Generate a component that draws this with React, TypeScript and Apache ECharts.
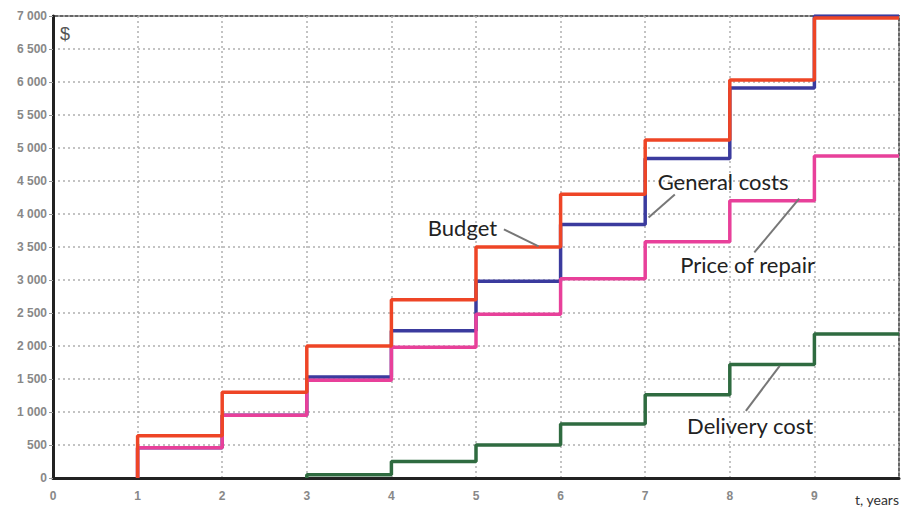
import React, { useEffect, useRef } from "react";
import * as echarts from "echarts";

// Interval start years (each value holds from year to year + 1)
const years = [1, 2, 3, 4, 5, 6, 7, 8, 9];
const endYear = 10;
const budget = [640, 1300, 2000, 2700, 3500, 4300, 5120, 6030, 6970];
const generalCosts = [460, 950, 1530, 2230, 2980, 3840, 4840, 5910, 7000];
const priceOfRepair = [460, 950, 1480, 1980, 2480, 3020, 3580, 4200, 4880];
const deliveryYears = [3, 4, 5, 6, 7, 8, 9];
const deliveryCost = [50, 250, 500, 820, 1260, 1720, 2180];
const yTicks = [0, 500, 1000, 1500, 2000, 2500, 3000, 3500, 4000, 4500, 5000, 5500, 6000, 6500, 7000];
const xTicks = [0, 1, 2, 3, 4, 5, 6, 7, 8, 9];

// Annotation anchors in data coordinates
const annotations = [
  { text: "Budget", at: [4.84, 3790], from: [5.33, 3766], to: [5.74, 3508] },
  { text: "General costs", at: [7.92, 4495], from: [7.35, 4297], to: [7.04, 3948] },
  { text: "Price of repair", at: [8.21, 3234], from: [8.82, 4233], to: [8.29, 3417] },
  { text: "Delivery cost", at: [8.24, 790], from: [8.59, 1700], to: [8.19, 1017] },
];

function stepData(xs: number[], vs: number[], end: number) {
  const pts: number[][] = [[xs[0], 0]];
  for (let i = 0; i < xs.length; i++) {
    const next = i + 1 < xs.length ? xs[i + 1] : end;
    pts.push([xs[i], vs[i]]);
    pts.push([next, vs[i]]);
  }
  return pts;
}

function fmt(v: number) {
  const s = String(v);
  if (s.length > 3) return s.slice(0, s.length - 3) + " " + s.slice(s.length - 3);
  return s;
}

export default function App() {
  const ref = useRef<HTMLDivElement>(null);
  useEffect(() => {
    document.body.style.margin = "0";
    const chart = echarts.init(ref.current!, null, { renderer: "svg" });
    const lineSeries = (name: string, data: number[][], color: string, z: number) => ({
      name,
      type: "line",
      data,
      showSymbol: false,
      symbol: "none",
      z,
      lineStyle: { color, width: 3.5 },
    });
    chart.setOption({
      animation: false,
      backgroundColor: "#ffffff",
      grid: {
        left: 53,
        right: 8,
        top: 16,
        bottom: 32,
        show: true,
        borderColor: "#666",
        borderWidth: 2,
      },
      xAxis: {
        type: "value",
        min: 0,
        max: 10,
        interval: 1,
        axisLine: { show: true, onZero: false, lineStyle: { color: "#222", width: 3 } },
        axisTick: { show: false },
        axisLabel: {
          margin: 12,
          color: "#888",
          fontWeight: "bold",
          fontSize: 12,
          fontFamily: "Liberation Sans",
          formatter: (v: number) => (xTicks.includes(v) ? String(v) : ""),
        },
        splitLine: { show: true, lineStyle: { color: "#b0b0b0", type: [2, 3], width: 1.5 } },
      },
      yAxis: {
        type: "value",
        min: 0,
        max: 7000,
        interval: 500,
        axisLine: { show: true, lineStyle: { color: "#222", width: 3 } },
        axisTick: { show: true, length: 4, lineStyle: { color: "#999" } },
        axisLabel: {
          margin: 6,
          color: "#888",
          fontWeight: "bold",
          fontSize: 12,
          fontFamily: "Liberation Sans",
          formatter: (v: number) => (yTicks.includes(v) ? fmt(v) : ""),
        },
        splitLine: { show: true, lineStyle: { color: "#b0b0b0", type: [2, 3], width: 1.5 } },
      },
      series: [
        lineSeries("General costs", stepData(years, generalCosts, endYear), "#3b3b9e", 2),
        lineSeries("Price of repair", stepData(years, priceOfRepair, endYear), "#e8409a", 3),
        lineSeries("Delivery cost", stepData(deliveryYears, deliveryCost, endYear), "#2f6b40", 4),
        lineSeries("Budget", stepData(years, budget, endYear), "#ee4526", 5),
      ],
    });

    const px = (p: number[]) => chart.convertToPixel({ gridIndex: 0 }, p) as number[];
    const elements: any[] = [];
    annotations.forEach((a) => {
      const f = px(a.from);
      const t = px(a.to);
      elements.push({
        type: "line",
        shape: { x1: f[0], y1: f[1], x2: t[0], y2: t[1] },
        style: { stroke: "#777", lineWidth: 2 },
        z: 10,
      });
      const c = px(a.at);
      elements.push({
        type: "text",
        x: c[0],
        y: c[1],
        z: 11,
        style: {
          text: a.text,
          fill: "#222",
          font: "22px Lato",
          align: "center",
          verticalAlign: "middle",
        },
      });
    });
    elements.push({
      type: "text",
      x: 65,
      y: 34,
      style: { text: "$", fill: "#555", font: "18px Liberation Sans", align: "center", verticalAlign: "middle" },
    });
    elements.push({
      type: "text",
      x: 877,
      y: 499,
      style: { text: "t, years", fill: "#333", font: "14px Lato", align: "center", verticalAlign: "middle" },
    });
    chart.setOption({ graphic: { elements } });
    return () => chart.dispose();
  }, []);
  return <div ref={ref} style={{ width: 907, height: 510 }} />;
}
